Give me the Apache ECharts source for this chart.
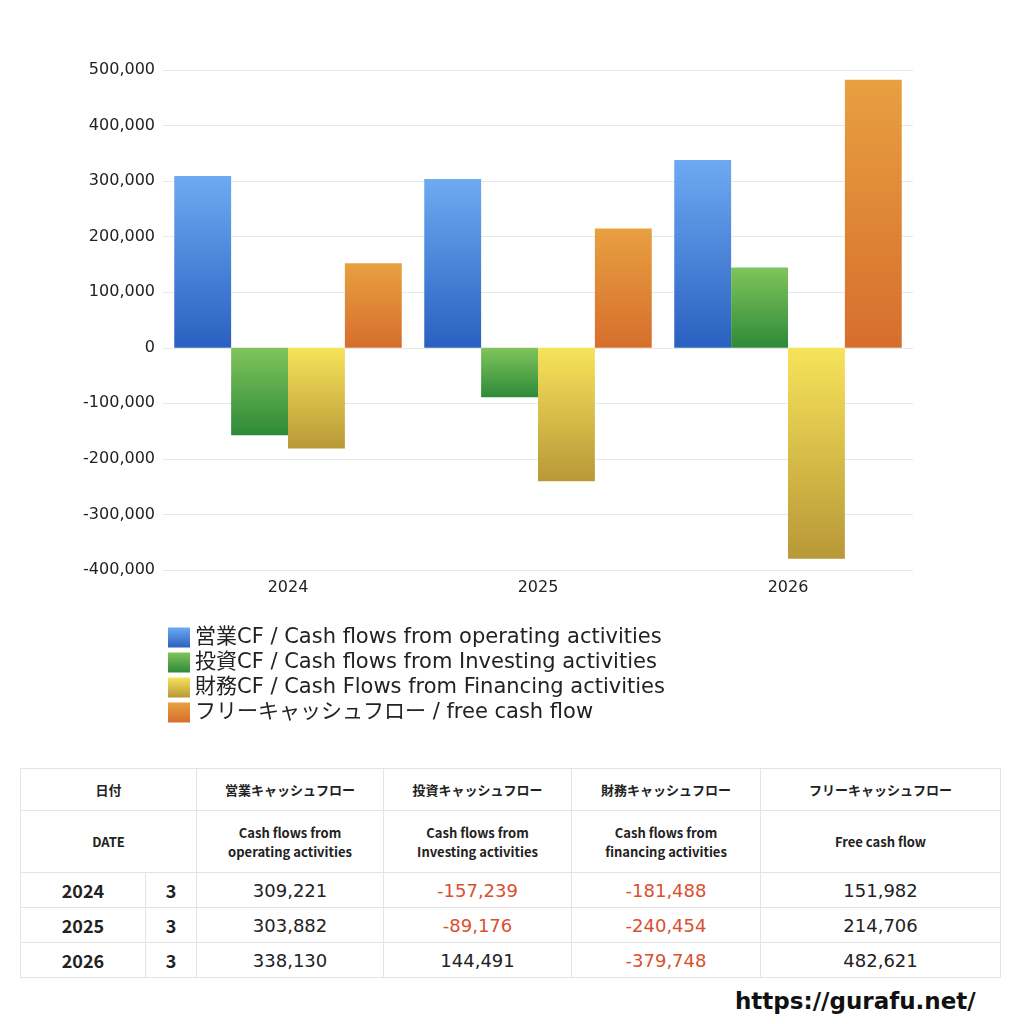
<!DOCTYPE html>
<html><head><meta charset="utf-8">
<script src="https://cdn.jsdelivr.net/npm/echarts@6/dist/echarts.min.js"></script>
<style>
body{margin:0;background:#fff;font-family:"Noto Sans CJK JP","Noto Sans",sans-serif;}
#chart{position:absolute;left:0;top:0;width:1024px;height:740px;}
#tbl{position:absolute;left:20px;top:768px;width:980px;border-collapse:collapse;color:#222;table-layout:fixed;}
#tbl td{border:1px solid #e4e4e4;text-align:center;padding:0;}
#tbl .h td{font-size:13px;font-weight:bold;}
#tbl .v{font-size:18px;font-family:"DejaVu Sans","Noto Sans CJK JP",sans-serif;}
#tbl .neg{color:#d9502f;}
#site{position:absolute;left:735px;top:988px;font-size:23px;font-weight:bold;font-family:"DejaVu Sans",sans-serif;color:#111;}
</style></head>
<body>
<div id="chart"></div>
<table id="tbl"></table>
<div id="site">https://gurafu.net/</div>
<script>
// データ
var years = ['2024', '2025', '2026'];
var months = ['3', '3', '3'];
var operating = [309221, 303882, 338130];
var investing = [-157239, -89176, 144491];
var financing = [-181488, -240454, -379748];
var freeCF = [151982, 214706, 482621];
var seriesNames = [
	'営業CF / Cash flows from operating activities',
	'投資CF / Cash flows from Investing activities',
	'財務CF / Cash Flows from Financing activities',
	'フリーキャッシュフロー / free cash flow'
];
var colorPairs = [['#6daaf2', '#2a60c0'], ['#80c45c', '#2e8a38'], ['#f7e35a', '#b89838'], ['#e8a040', '#d66e2e']];
var FONT = '"DejaVu Sans", "Noto Sans CJK JP", sans-serif';

function grad(c){
	return new echarts.graphic.LinearGradient(0, 0, 0, 1, [{offset:0, color:c[0]}, {offset:1, color:c[1]}]);
}

var chart = echarts.init(document.getElementById('chart'));
var dataSets = [operating, investing, financing, freeCF];
var series = dataSets.map(function(d, i){
	return {
		name: seriesNames[i],
		type: 'bar',
		data: d,
		barGap: '0%',
		barCategoryGap: '9%',
		itemStyle: {color: grad(colorPairs[i])}
	};
});
chart.setOption({
	animation: false,
	grid: {left: 163, right: 111, top: 70, height: 500},
	legend: {
		orient: 'vertical', left: 163, top: 622, itemGap: 4,
		itemWidth: 22, itemHeight: 20, icon: 'rect',
		textStyle: {fontSize: 21, color: '#222', fontFamily: FONT}
	},
	xAxis: {
		type: 'category', data: years,
		axisLine: {show: false}, axisTick: {show: false},
		axisLabel: {fontSize: 16, color: '#222', margin: 10, fontFamily: FONT}
	},
	yAxis: {
		type: 'value', min: -400000, max: 500000, interval: 100000,
		axisLabel: {fontSize: 16, color: '#222', fontFamily: FONT, formatter: function(v){ return v.toLocaleString('en-US'); }},
		splitLine: {lineStyle: {color: '#e8e8e8'}}
	},
	series: series
});

// 表
var cols = [125, 51, 187, 188, 189, 240];
var tbl = document.getElementById('tbl');
var html = '<colgroup>' + cols.map(function(w){ return '<col style="width:' + w + 'px">'; }).join('') + '</colgroup>';
html += '<tr class="h" style="height:42px"><td colspan="2">日付</td><td>営業キャッシュフロー</td><td>投資キャッシュフロー</td><td>財務キャッシュフロー</td><td>フリーキャッシュフロー</td></tr>';
html += '<tr class="h" style="height:62px"><td colspan="2">DATE</td><td>Cash flows from<br>operating activities</td><td>Cash flows from<br>Investing activities</td><td>Cash flows from<br>financing activities</td><td>Free cash flow</td></tr>';
function cell(v){
	return '<td class="v' + (v < 0 ? ' neg' : '') + '">' + v.toLocaleString('en-US') + '</td>';
}
years.forEach(function(y, i){
	html += '<tr style="height:35px"><td style="font-size:18px;font-weight:bold">' + y + '</td><td style="font-size:18px;font-weight:bold">' + months[i] + '</td>' +
		cell(operating[i]) + cell(investing[i]) + cell(financing[i]) + cell(freeCF[i]) + '</tr>';
});
tbl.innerHTML = html;
</script>
</body></html>
